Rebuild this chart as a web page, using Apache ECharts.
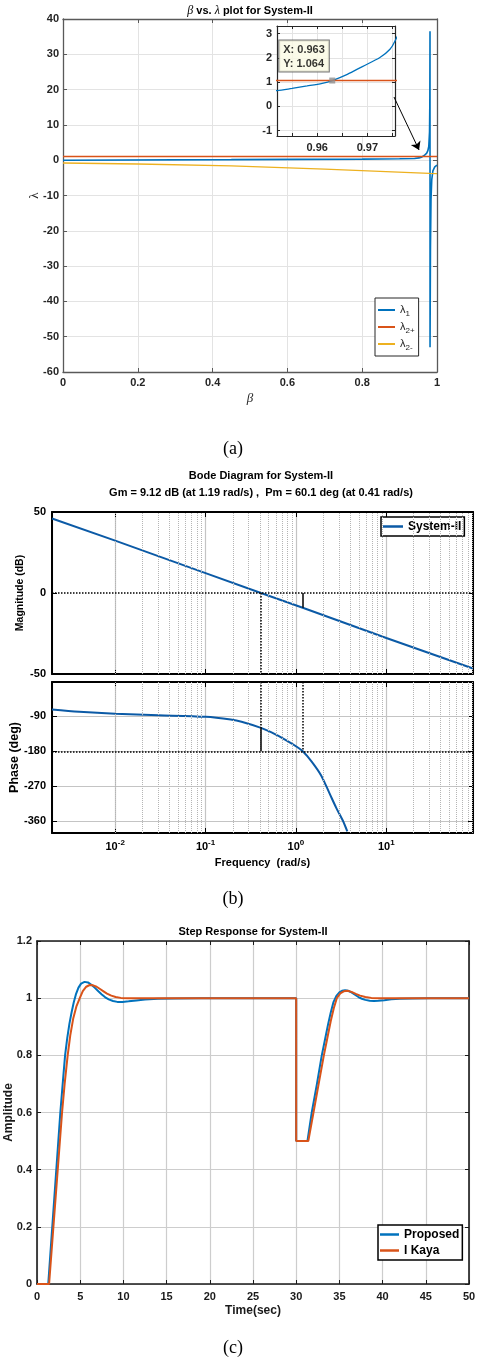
<!DOCTYPE html>
<html>
<head>
<meta charset="utf-8">
<script src="https://cdn.jsdelivr.net/npm/echarts@6/dist/echarts.min.js"></script>
<style>
  html, body { margin: 0; padding: 0; background: #fff; }
  #chart { width: 478px; height: 1358px; }
</style>
</head>
<body>
<div id="chart"></div>
<script>
// ---- (a) beta vs lambda ----
const lambda1 = [[0, 0], [0.45, 0.15], [0.8, 0.3], [0.9, 0.4], [0.94, 0.5], [0.952, 0.65], [0.955, 0.74],
  [0.958, 0.84], [0.961, 0.95], [0.963, 1.064], [0.966, 1.32], [0.969, 1.64], [0.9725, 2.01], [0.9745, 2.35],
  [0.9755, 2.69], [0.978, 3.9], [0.98, 8], [0.9808, 16], [0.9813, 36.5], [0.9814, -53], [0.9825, -25],
  [0.984, -11], [0.986, -5.5], [0.989, -3], [0.994, -1.9], [1, -1.4]];
const lambda2Plus = [[0, 1.064], [1, 1.064]];
const lambda2Minus = [[0, -0.8], [0.2, -1.07], [0.45, -1.6], [0.7, -2.55], [0.946, -3.6], [0.98, -3.75], [1, -3.8]];
const dataTip = [0.963, 1.064];
const arrowFrom = [0.885, 17.9];
const arrowTo = [0.952, 2.9];

// ---- (b) bode ----
const bodeMag = [[0.002, 46], [0.01, 32.3], [0.1, 12.3], [0.41, 0], [1.19, -9.12], [10, -27.8], [91, -46.6]];
const bodePhase = [[0.002, -72.8], [0.004, -78.7], [0.01, -83.8], [0.03, -87.4], [0.1, -91.5], [0.19, -98.5],
  [0.25, -104], [0.41, -119.9], [0.6, -137], [0.8, -153], [1.0, -167], [1.19, -180], [1.5, -207],
  [1.9, -242], [2.34, -287], [2.8, -326], [3.3, -358], [3.7, -386]];
const gainMargin = { freq: 1.19, mag: -9.12 };
const phaseMargin = { freq: 0.41, phase: -119.9 };
const phaseTicks = [-360, -270, -180, -90];

// ---- (c) step response ----
const stepProposed = [[0, 0], [1.3, 0], [2.7, 0.6], [3.0, 0.71], [3.25, 0.8], [3.5, 0.86], [3.75, 0.91], [4.0, 0.95],
  [4.25, 0.985], [4.5, 1.013], [4.8, 1.037], [5.1, 1.051], [5.5, 1.057], [5.9, 1.055], [6.3, 1.047], [6.7, 1.036],
  [7.1, 1.024], [7.5, 1.013], [7.9, 1.003], [8.3, 0.996], [8.8, 0.99], [9.3, 0.987], [9.9, 0.987], [10.6, 0.989],
  [11.5, 0.992], [12.5, 0.995], [14, 0.998], [16, 0.999], [19, 1], [30, 1], [30, 0.5], [31.3, 0.5], [31.8, 0.6],
  [32.4, 0.7], [32.96, 0.8], [33.3, 0.85], [33.7, 0.91], [34.0, 0.95], [34.3, 0.985], [34.65, 1.008], [35.0, 1.02],
  [35.3, 1.026], [35.66, 1.028], [36.0, 1.026], [36.4, 1.02], [36.8, 1.012], [37.2, 1.004], [37.6, 0.998],
  [38.0, 0.994], [38.5, 0.991], [39.0, 0.99], [39.5, 0.991], [40.2, 0.993], [41, 0.996], [42, 0.998],
  [43.5, 0.999], [45.5, 1], [50, 1]];
const stepKaya = [[0, 0], [1.4, 0], [2.9, 0.6], [3.2, 0.7], [3.55, 0.8], [3.85, 0.87], [4.2, 0.93], [4.55, 0.97],
  [4.95, 1.0], [5.3, 1.025], [5.7, 1.04], [6.1, 1.046], [6.5, 1.045], [6.9, 1.04], [7.3, 1.032], [7.7, 1.024],
  [8.1, 1.016], [8.6, 1.009], [9.1, 1.004], [9.7, 1.001], [10.5, 1], [30, 1], [30, 0.5], [31.4, 0.5], [32.0, 0.6],
  [32.6, 0.7], [33.2, 0.8], [33.6, 0.86], [34.0, 0.92], [34.35, 0.965], [34.7, 1.0], [35.1, 1.017], [35.5, 1.024],
  [35.93, 1.026], [36.4, 1.022], [36.9, 1.015], [37.4, 1.009], [38.0, 1.004], [38.7, 1.001], [39.6, 1], [50, 1]];

const FONT = '"Liberation Sans", Arial, Helvetica, sans-serif';
const SERIF = '"Liberation Serif", "Times New Roman", serif';

// dotted minor grid of the log frequency axis (2..9 x 10^k)
const bodeMinorFreqs = [];
for (let e = -3; e <= 1; e++) {
  for (let m = 2; m <= 9; m++) {
    const f = +(m * Math.pow(10, e)).toPrecision(3);
    if (f > 0.0021 && f < 91) bodeMinorFreqs.push(f);
  }
}

function tickLabel(color, margin, size) {
  return { color: color, margin: margin, fontFamily: FONT, fontWeight: 'bold', fontSize: size || 11 };
}

function nameStyle(size, color) {
  return { fontFamily: FONT, fontWeight: 'bold', fontSize: size, color: color };
}

// same axis drawn on the opposite side, ticks only (MATLAB box)
function mirror(axis, position) {
  return Object.assign({}, axis, {
    position: position,
    name: '',
    axisLabel: { show: false },
    splitLine: { show: false },
  });
}

function decadeLabel(v) {
  const e = Math.log10(v);
  const r = Math.round(e);
  return Math.abs(e - r) < 1e-6 ? '10{sup|' + r + '}' : '';
}

// ---- axes ----
const axLine = (color, width) => ({ show: true, onZero: false, lineStyle: { color: color, width: width } });
const axTick = (color, len, custom) => {
  const t = { show: true, inside: true, length: len, lineStyle: { color: color } };
  if (custom) t.customValues = custom;
  return t;
};

const aX = {
  type: 'value', gridIndex: 0, min: 0, max: 1, interval: 0.2,
  name: 'β', nameLocation: 'middle', nameGap: 20, nameMoveOverlap: false,
  nameTextStyle: { fontFamily: SERIF, fontStyle: 'italic', fontSize: 13, color: '#262626' },
  axisLine: axLine('#595959', 1.3), axisTick: axTick('#595959', 4),
  axisLabel: tickLabel('#262626', 5),
  splitLine: { show: true, lineStyle: { color: '#e3e3e3', width: 1 } },
};
const aY = {
  type: 'value', gridIndex: 0, min: -60, max: 40, interval: 10,
  name: 'λ', nameLocation: 'middle', nameGap: 22, nameMoveOverlap: false,
  nameTextStyle: { fontFamily: SERIF, fontSize: 13, color: '#262626' },
  axisLine: axLine('#595959', 1.3), axisTick: axTick('#595959', 4),
  axisLabel: tickLabel('#262626', 4),
  splitLine: { show: true, lineStyle: { color: '#e3e3e3', width: 1 } },
};
const inX = {
  type: 'value', gridIndex: 1, min: 0.952, max: 0.9755, z: 2,
  axisLine: axLine('#262626', 1.2), axisTick: axTick('#262626', 3, [0.955, 0.96, 0.965, 0.97, 0.975]),
  axisLabel: Object.assign(tickLabel('#262626', 6), { customValues: [0.96, 0.97], formatter: v => v.toFixed(2) }),
  splitLine: { show: true, lineStyle: { color: '#e3e3e3', width: 1 } },
};
const inY = {
  type: 'value', gridIndex: 1, min: -1.22, max: 3.31, z: 2,
  axisLine: axLine('#262626', 1.2), axisTick: axTick('#262626', 3, [-1, 0, 1, 2, 3]),
  axisLabel: Object.assign(tickLabel('#262626', 5), { customValues: [-1, 0, 1, 2, 3] }),
  splitLine: { show: true, lineStyle: { color: '#e3e3e3', width: 1 } },
};
const magX = {
  type: 'log', logBase: 10, gridIndex: 2, min: 0.002, max: 91,
  axisLine: axLine('#000', 2), axisTick: axTick('#000', 5),
  axisLabel: { show: false },
  splitLine: { show: true, lineStyle: { color: '#c4c4c4', width: 1.2 } },
};
const magY = {
  type: 'value', gridIndex: 2, min: -50, max: 50, interval: 50,
  name: 'Magnitude (dB)', nameLocation: 'middle', nameGap: 26, nameMoveOverlap: false,
  nameTextStyle: nameStyle(10.5, '#000'),
  axisLine: axLine('#000', 2), axisTick: axTick('#000', 5),
  axisLabel: tickLabel('#000', 6),
  splitLine: { show: false },
};
const phX = {
  type: 'log', logBase: 10, gridIndex: 3, min: 0.002, max: 91,
  name: 'Frequency  (rad/s)', nameLocation: 'middle', nameGap: 24, nameMoveOverlap: false,
  nameTextStyle: nameStyle(11, '#000'),
  axisLine: axLine('#000', 2), axisTick: axTick('#000', 5),
  axisLabel: Object.assign(tickLabel('#000', 6), {
    formatter: decadeLabel, showMinLabel: false, showMaxLabel: false, lineHeight: 16,
    rich: { sup: { fontFamily: FONT, fontWeight: 'bold', fontSize: 8, verticalAlign: 'top', lineHeight: 8, color: '#000' } },
  }),
  splitLine: { show: true, lineStyle: { color: '#c4c4c4', width: 1.2 } },
};
const phY = {
  type: 'value', gridIndex: 3, min: -390, max: -2,
  name: 'Phase (deg)', nameLocation: 'middle', nameGap: 31, nameMoveOverlap: false,
  nameTextStyle: nameStyle(12.5, '#000'),
  axisLine: axLine('#000', 2), axisTick: axTick('#000', 5, phaseTicks),
  axisLabel: Object.assign(tickLabel('#000', 6), { customValues: phaseTicks }),
  splitLine: { show: true, lineStyle: { color: '#c4c4c4', width: 1.2 } },
};
const stX = {
  type: 'value', gridIndex: 4, min: 0, max: 50, interval: 5,
  name: 'Time(sec)', nameLocation: 'middle', nameGap: 21, nameMoveOverlap: false,
  nameTextStyle: nameStyle(12, '#1a1a1a'),
  axisLine: axLine('#1a1a1a', 1.6), axisTick: axTick('#1a1a1a', 4),
  axisLabel: tickLabel('#1a1a1a', 7),
  splitLine: { show: true, lineStyle: { color: '#cdcdcd', width: 1.2 } },
};
const stY = {
  type: 'value', gridIndex: 4, min: 0, max: 1.2, interval: 0.2,
  name: 'Amplitude', nameLocation: 'middle', nameGap: 22, nameMoveOverlap: false,
  nameTextStyle: nameStyle(12, '#1a1a1a'),
  axisLine: axLine('#1a1a1a', 1.6), axisTick: axTick('#1a1a1a', 4),
  axisLabel: tickLabel('#1a1a1a', 5),
  splitLine: { show: true, lineStyle: { color: '#cdcdcd', width: 1.2 } },
};

const xAxes = [aX, mirror(aX, 'top'), inX, mirror(inX, 'top'), magX, mirror(magX, 'top'),
  phX, mirror(phX, 'top'), stX, mirror(stX, 'top')];
const yAxes = [aY, mirror(aY, 'right'), inY, mirror(inY, 'right'), magY, mirror(magY, 'right'),
  phY, mirror(phY, 'right'), stY, mirror(stY, 'right')];

const gridBase = { containLabel: false, outerBoundsMode: 'none' };

const dotted = { type: 'dotted', color: '#000', width: 1.5 };
const solid = { type: 'solid', color: '#000', width: 1.5 };
const minorGrid = { type: 'dotted', color: '#b5b5b5', width: 1 };

const bodeBlue = '#0b5aa6';

const option = {
  animation: false,
  backgroundColor: '#fff',
  title: [
    {
      text: '{i|β} vs. {i|λ} plot for System-II', left: 250, top: 4, textAlign: 'center', padding: 0,
      textStyle: {
        fontFamily: FONT, fontWeight: 'bold', fontSize: 11, color: '#000', lineHeight: 14,
        rich: { i: { fontFamily: SERIF, fontStyle: 'italic', fontWeight: 'normal', fontSize: 12, color: '#000' } },
      },
    },
    {
      text: 'Bode Diagram for System-II\nGm = 9.12 dB (at 1.19 rad/s) ,  Pm = 60.1 deg (at 0.41 rad/s)',
      left: 261, top: 467, textAlign: 'center', padding: 0,
      textStyle: { fontFamily: FONT, fontWeight: 'bold', fontSize: 11, color: '#000', lineHeight: 17 },
    },
    {
      text: 'Step Response for System-II', left: 253, top: 925, textAlign: 'center', padding: 0,
      textStyle: { fontFamily: FONT, fontWeight: 'bold', fontSize: 11, color: '#000', lineHeight: 14 },
    },
    { text: '(a)', left: 233, top: 439, textAlign: 'center', padding: 0,
      textStyle: { fontFamily: SERIF, fontWeight: 'normal', fontSize: 18, color: '#000', lineHeight: 20 } },
    { text: '(b)', left: 233, top: 889, textAlign: 'center', padding: 0,
      textStyle: { fontFamily: SERIF, fontWeight: 'normal', fontSize: 18, color: '#000', lineHeight: 20 } },
    { text: '(c)', left: 233, top: 1338, textAlign: 'center', padding: 0,
      textStyle: { fontFamily: SERIF, fontWeight: 'normal', fontSize: 18, color: '#000', lineHeight: 20 } },
  ],
  grid: [
    Object.assign({ left: 63, top: 19, width: 374, height: 353 }, gridBase),
    Object.assign({ left: 277, top: 26, width: 118, height: 110, show: true, backgroundColor: '#fff', borderWidth: 0, z: 1 }, gridBase),
    Object.assign({ left: 52, top: 512, width: 421, height: 162 }, gridBase),
    Object.assign({ left: 52, top: 682, width: 421, height: 151 }, gridBase),
    Object.assign({ left: 37, top: 941, width: 432, height: 343 }, gridBase),
  ],
  xAxis: xAxes,
  yAxis: yAxes,
  legend: [
    {
      data: ['λ1', 'λ2+', 'λ2-'], left: 375, top: 298, orient: 'vertical',
      icon: 'rect', itemWidth: 17, itemHeight: 2, itemGap: 1, padding: [4, 4, 4, 3],
      borderColor: '#262626', borderWidth: 1, backgroundColor: '#fff',
      formatter: name => 'λ{s|' + name.slice(1) + '}',
      textStyle: {
        fontFamily: FONT, fontSize: 11, color: '#262626', lineHeight: 16,
        rich: { s: { fontFamily: FONT, fontSize: 8, color: '#262626', verticalAlign: 'bottom', lineHeight: 9 } },
      },
    },
    {
      data: ['System-II'], left: 381, top: 517, orient: 'vertical',
      icon: 'rect', itemWidth: 20, itemHeight: 2.5, padding: [2, 3, 2, 2],
      borderColor: '#000', borderWidth: 1.5, backgroundColor: '#fff',
      textStyle: { fontFamily: FONT, fontWeight: 'bold', fontSize: 12, color: '#000', lineHeight: 15 },
    },
    {
      data: ['Proposed', 'I Kaya'], left: 378, top: 1225, orient: 'vertical',
      icon: 'rect', itemWidth: 19, itemHeight: 2.5, itemGap: 1, padding: [2, 3, 2, 2],
      borderColor: '#000', borderWidth: 1.5, backgroundColor: '#fff',
      textStyle: { fontFamily: FONT, fontWeight: 'bold', fontSize: 12, color: '#000', lineHeight: 15 },
    },
  ],
  series: [
    // (a) main
    { name: 'λ1', type: 'line', xAxisIndex: 0, yAxisIndex: 0, data: lambda1, symbol: 'none',
      color: '#0072BD', lineStyle: { width: 1.6 } },
    { name: 'λ2+', type: 'line', xAxisIndex: 0, yAxisIndex: 0, data: lambda2Plus, symbol: 'none',
      color: '#D95319', lineStyle: { width: 1.4 },
      markLine: {
        silent: true, symbol: ['none', 'arrow'], symbolSize: 8, label: { show: false },
        lineStyle: { color: '#000', width: 1, type: 'solid' },
        data: [[{ coord: arrowFrom }, { coord: arrowTo }]],
      } },
    { name: 'λ2-', type: 'line', xAxisIndex: 0, yAxisIndex: 0, data: lambda2Minus, symbol: 'none',
      color: '#EDB120', lineStyle: { width: 1.3 } },
    // (a) inset
    { name: 'λ1', type: 'line', xAxisIndex: 2, yAxisIndex: 2, data: lambda1, symbol: 'none', smooth: 0.3,
      color: '#0072BD', lineStyle: { width: 1.3 }, z: 5, clip: true },
    { name: 'λ2+', type: 'line', xAxisIndex: 2, yAxisIndex: 2, data: lambda2Plus, symbol: 'none',
      color: '#D95319', lineStyle: { width: 1.4 }, z: 5, clip: true },
    { name: 'datatip', type: 'scatter', xAxisIndex: 2, yAxisIndex: 2, data: [dataTip], symbol: 'rect',
      symbolSize: 6, itemStyle: { color: '#8f8f8f' }, z: 6,
      label: {
        show: true, position: [-50, -37], align: 'left', verticalAlign: 'top',
        formatter: p => 'X: ' + p.value[0].toFixed(3) + '\nY: ' + p.value[1].toFixed(3),
        fontFamily: FONT, fontWeight: 'bold', fontSize: 11, lineHeight: 14, color: '#000',
        backgroundColor: '#fafae3', borderColor: '#555', borderWidth: 1, padding: [2, 4, 1, 4],
      } },
    // (b) minor grid helpers
    { name: 'minor-mag', type: 'line', xAxisIndex: 4, yAxisIndex: 4, data: [], z: 1,
      markLine: { silent: true, symbol: 'none', label: { show: false }, lineStyle: minorGrid,
        data: bodeMinorFreqs.map(f => ({ xAxis: f })) } },
    { name: 'minor-phase', type: 'line', xAxisIndex: 6, yAxisIndex: 6, data: [], z: 1,
      markLine: { silent: true, symbol: 'none', label: { show: false }, lineStyle: minorGrid,
        data: bodeMinorFreqs.map(f => ({ xAxis: f })) } },
    // (b) bode curves with margin markers
    { name: 'System-II', type: 'line', xAxisIndex: 4, yAxisIndex: 4, data: bodeMag, symbol: 'none',
      color: bodeBlue, lineStyle: { width: 2 }, z: 4,
      markLine: {
        silent: true, symbol: 'none', label: { show: false },
        data: [
          { yAxis: 0, lineStyle: dotted },
          [{ coord: [phaseMargin.freq, 0], lineStyle: dotted }, { coord: [phaseMargin.freq, -50], lineStyle: dotted }],
          [{ coord: [gainMargin.freq, 0], lineStyle: solid }, { coord: [gainMargin.freq, gainMargin.mag], lineStyle: solid }],
        ],
      } },
    { name: 'System-II', type: 'line', xAxisIndex: 6, yAxisIndex: 6, data: bodePhase, symbol: 'none', smooth: 0.3,
      color: bodeBlue, lineStyle: { width: 2 }, z: 4,
      markLine: {
        silent: true, symbol: 'none', label: { show: false },
        data: [
          { yAxis: -180, lineStyle: dotted },
          [{ coord: [phaseMargin.freq, -2], lineStyle: dotted }, { coord: [phaseMargin.freq, phaseMargin.phase], lineStyle: dotted }],
          [{ coord: [phaseMargin.freq, phaseMargin.phase], lineStyle: solid }, { coord: [phaseMargin.freq, -180], lineStyle: solid }],
          [{ coord: [gainMargin.freq, -2], lineStyle: dotted }, { coord: [gainMargin.freq, -180], lineStyle: dotted }],
        ],
      } },
    // (c) step responses
    { name: 'Proposed', type: 'line', xAxisIndex: 8, yAxisIndex: 8, data: stepProposed, symbol: 'none',
      color: '#0072BD', lineStyle: { width: 2 } },
    { name: 'I Kaya', type: 'line', xAxisIndex: 8, yAxisIndex: 8, data: stepKaya, symbol: 'none',
      color: '#D95319', lineStyle: { width: 2 } },
  ],
};

const chart = echarts.init(document.getElementById('chart'));
chart.setOption(option);
</script>
</body>
</html>
